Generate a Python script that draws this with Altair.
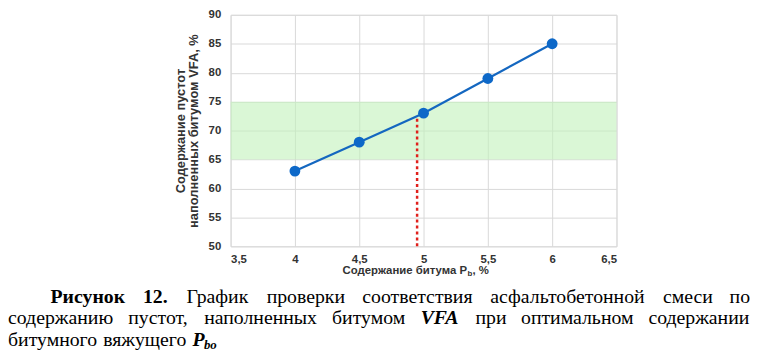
import altair as alt
import pandas as pd

# ---- data ----
bitumen = [4, 4.5, 5, 5.5, 6]
vfa = [63, 68, 73, 79, 85]
band_x = [3.5, 6.5]
band_y = [65, 75]
opt_x = 4.95
opt_y0 = 50
opt_y1 = 72.5
x_ticks = [3.5, 4, 4.5, 5, 5.5, 6, 6.5]
y_ticks = [50, 55, 60, 65, 70, 75, 80, 85, 90]

x_title_main = "Содержание битума P"
x_title_sub = "b"
x_title_tail = ", %"
y_title = ["Содержание пустот", "наполненных битумом VFA, %"]

cap_lines = [
    [("Рисунок", "b"), ("12.", "b"), ("График", "r"), ("проверки", "r"), ("соответствия", "r"),
     ("асфальтобетонной", "r"), ("смеси", "r"), ("по", "r")],
    [("содержанию", "r"), ("пустот,", "r"), ("наполненных", "r"), ("битумом", "r"), ("VFA", "bi"),
     ("при", "r"), ("оптимальном", "r"), ("содержании", "r")],
    [("битумного", "r"), ("вяжущего", "r"), ("P", "bi"), ("bo", "sub")],
]

# ---- layout ----
PLOT_LEFT, PLOT_TOP = 233, 13
W, H = 390, 234
CAP_SIZE = 20
line_y = [298, 320, 342]
line_left = [51, 8, 8]
line_right = [758, 758, None]   # None -> not justified (last line)

# approximate glyph widths (em) of Liberation Serif, for justifying the caption
_w = {"а": .444, "б": .509, "в": .472, "г": .41, "д": .509, "е": .444, "ж": .691, "з": .395,
      "и": .535, "й": .535, "к": .486, "л": .499, "м": .633, "н": .535, "о": .5, "п": .535,
      "р": .5, "с": .444, "т": .437, "у": .5, "ф": .648, "х": .5, "ц": .535, "ч": .503,
      "ш": .77, "щ": .77, "ъ": .517, "ы": .672, "ь": .456, "э": .429, "ю": .747, "я": .481,
      "Г": .578, "Р": .556, ",": .25, ".": .25, "1": .5, "2": .5, "V": .667, "F": .667,
      "A": .667, "P": .611, "b": .5, "o": .5}
_scale = {"r": 1.0, "b": 1.07, "bi": 1.02, "sub": 0.65}

def word_w(word, style):
    return sum(_w.get(c, .5) for c in word) * CAP_SIZE * _scale[style]

rows = []
for li, words in enumerate(cap_lines):
    main = [(w, s) for w, s in words if s != "sub"]
    widths = [word_w(w, s) for w, s in main]
    if line_right[li] is None:
        gap = 0.25 * CAP_SIZE
    else:
        gap = (line_right[li] - line_left[li] - sum(widths)) / (len(main) - 1)
    x = line_left[li]
    for (w, s), ww in zip(main, widths):
        rows.append({"w": w, "s": s, "px": x - PLOT_LEFT, "py": line_y[li] - PLOT_TOP})
        x += ww + gap
    for w, s in words:
        if s == "sub":
            prev = rows[-1]
            rows.append({"w": w, "s": s, "px": prev["px"] + word_w(prev["w"], prev["s"]) - 1,
                         "py": prev["py"] + 5})
cap = pd.DataFrame(rows)

df = pd.DataFrame({"x": bitumen, "y": vfa})
band = pd.DataFrame({"x": [band_x[0]], "x2": [band_x[1]], "y": [band_y[0]], "y2": [band_y[1]]})
opt = pd.DataFrame({"x": [opt_x], "y": [opt_y0], "y2": [opt_y1]})

xs = alt.Scale(domain=[3.5, 6.5], nice=False, zero=False)
ys = alt.Scale(domain=[50, 90], nice=False, zero=False)

base_font = "Liberation Sans"
label_col = "#333333"

x_axis = alt.Axis(values=x_ticks, labelExpr="replace(toString(datum.value), '.', ',')", title=None,
                  ticks=False, domain=False, grid=True, gridColor="#d9d9d9", labelOverlap=False,
                  labelFont=base_font, labelFontSize=11.5, labelFontWeight="bold",
                  labelColor=label_col, labelPadding=7)
y_axis = alt.Axis(values=y_ticks, title=y_title, ticks=False, domain=False, grid=True,
                  gridColor="#d9d9d9", labelOverlap=False, labelFont=base_font, labelFontSize=11.5,
                  labelFontWeight="bold", labelColor=label_col, labelPadding=10,
                  titleFont=base_font, titleFontSize=13, titleFontWeight="bold",
                  titleColor=label_col, titlePadding=8, titleLineHeight=13)

X = lambda f: alt.X(f, scale=xs, axis=x_axis)
Y = lambda f: alt.Y(f, scale=ys, axis=y_axis)

band_layer = alt.Chart(band).mark_rect(color="#c1f2bb", opacity=0.6).encode(
    x=X("x:Q"), x2="x2:Q", y=Y("y:Q"), y2="y2:Q")

opt_layer = alt.Chart(opt).mark_rule(color="#e0201c", strokeWidth=2.5, strokeDash=[3, 3]).encode(
    x=X("x:Q"), y=Y("y:Q"), y2="y2:Q")

line_layer = alt.Chart(df).mark_line(color="#1467c0", strokeWidth=2.2).encode(
    x=X("x:Q"), y=Y("y:Q"))

pt_layer = alt.Chart(df).mark_point(filled=True, color="#0d68c8", opacity=1, size=120).encode(
    x=X("x:Q"), y=Y("y:Q"))

xt = pd.DataFrame({"t": [x_title_main, x_title_sub, x_title_tail],
                   "k": ["main", "sub", "tail"]})
xt_main = alt.Chart(xt[xt.k == "main"]).mark_text(
    align="right", baseline="middle", font=base_font, fontSize=11.5, fontWeight="bold", color=label_col
).encode(text="t:N", x=alt.value(472 - PLOT_LEFT), y=alt.value(272 - PLOT_TOP))
xt_sub = alt.Chart(xt[xt.k == "sub"]).mark_text(
    align="left", baseline="middle", font=base_font, fontSize=8, fontWeight="bold", color=label_col
).encode(text="t:N", x=alt.value(472.5 - PLOT_LEFT), y=alt.value(275 - PLOT_TOP))
xt_tail = alt.Chart(xt[xt.k == "tail"]).mark_text(
    align="left", baseline="middle", font=base_font, fontSize=11.5, fontWeight="bold", color=label_col
).encode(text="t:N", x=alt.value(477.5 - PLOT_LEFT), y=alt.value(272 - PLOT_TOP))

def cap_layer(style, **kw):
    return alt.Chart(cap[cap.s == style]).mark_text(
        align="left", baseline="middle", font="Liberation Serif", color="#000000", **kw
    ).encode(text="w:N", x=alt.X("px:Q", scale=None), y=alt.Y("py:Q", scale=None))

cap_r = cap_layer("r", fontSize=CAP_SIZE)
cap_b = cap_layer("b", fontSize=CAP_SIZE, fontWeight="bold")
cap_bi = cap_layer("bi", fontSize=CAP_SIZE, fontWeight="bold", fontStyle="italic")
cap_sub = cap_layer("sub", fontSize=13, fontWeight="bold", fontStyle="italic")

chart = alt.layer(
    band_layer, opt_layer, line_layer, pt_layer,
    xt_main, xt_sub, xt_tail, cap_r, cap_b, cap_bi, cap_sub
).properties(
    width=W, height=H,
    autosize=alt.AutoSizeParams(type="none"),
    padding={"left": PLOT_LEFT - 8, "top": PLOT_TOP - 8,
             "right": 753 - (PLOT_LEFT - 8) - W, "bottom": 351 - (PLOT_TOP - 8) - H},
).configure_view(stroke="#d9d9d9").configure(background="white")

chart.save("out.html", embed_options={"renderer": "svg", "actions": False})
